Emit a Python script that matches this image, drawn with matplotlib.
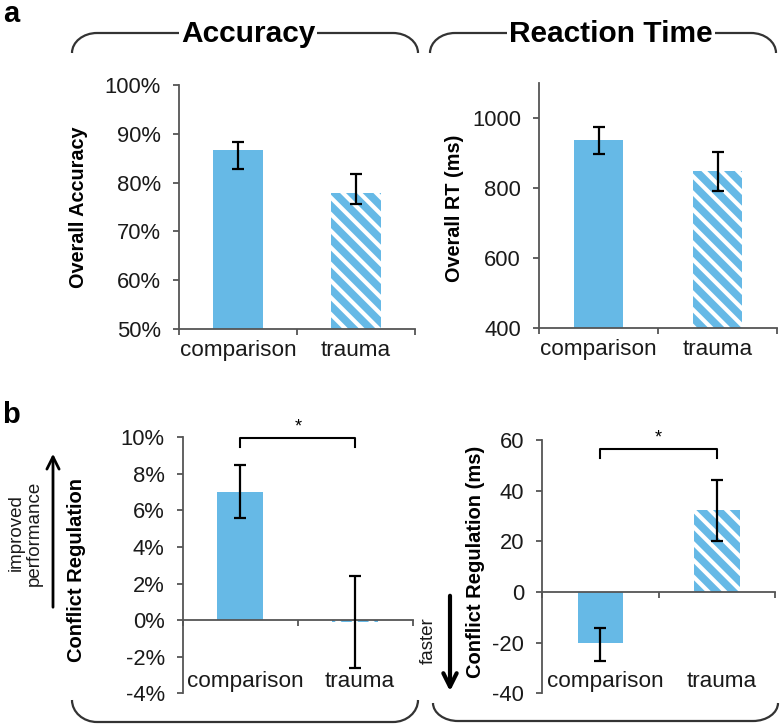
import numpy as np
import matplotlib
matplotlib.use("Agg")
import matplotlib.pyplot as plt
from matplotlib.path import Path
from matplotlib.patches import PathPatch, FancyArrowPatch
from matplotlib.ticker import FuncFormatter

# ---------------- data ----------------
groups = ["comparison", "trauma"]

acc = [86.6, 77.9]          # Overall accuracy (%)
acc_lo = [3.9, 2.2]
acc_hi = [1.8, 3.8]

rt = [938, 849]             # Overall RT (ms)
rt_lo = [40, 56]
rt_hi = [36, 54]

cr_acc = [7.0, -0.1]        # Conflict regulation accuracy (%)
cr_acc_lo = [1.4, 2.5]
cr_acc_hi = [1.5, 2.5]

cr_rt = [-20.0, 32.3]       # Conflict regulation RT (ms)
cr_rt_lo = [7.3, 12.0]
cr_rt_hi = [5.8, 12.0]

acc_ticks = [50, 60, 70, 80, 90, 100]
rt_ticks = [400, 600, 800, 1000]
cr_acc_ticks = [-4, -2, 0, 2, 4, 6, 8, 10]
cr_rt_ticks = [-40, -20, 0, 20, 40, 60]

# ---------------- style ----------------
plt.rcParams['font.family'] = ['Liberation Sans', 'DejaVu Sans']
plt.rcParams['axes.unicode_minus'] = False
plt.rcParams['hatch.linewidth'] = 3.0

W, H = 783, 727
BLUE = '#66b9e6'
AX = '#555555'
TXT = '#1a1a1a'
TICK_FS = 15.8
CAT_FS = 16.2

fig = plt.figure(figsize=(W / 100, H / 100), dpi=100)


def rect(x0, x1, ytop, ybot):
    return [x0 / W, 1 - ybot / H, (x1 - x0) / W, (ybot - ytop) / H]


def style_axes(ax, ylim, yticks, fmt, zero_spine=False, cat_labels=True):
    n = len(groups)
    ax.set_xlim(0, n)
    ax.set_ylim(*ylim)
    for s in ['top', 'right']:
        ax.spines[s].set_visible(False)
    for s in ['left', 'bottom']:
        ax.spines[s].set_color(AX)
        ax.spines[s].set_linewidth(1.3)
    if zero_spine:
        ax.spines['bottom'].set_position(('data', 0))
    ax.set_yticks(yticks)
    ax.yaxis.set_major_formatter(FuncFormatter(fmt))
    ax.set_xticks(np.arange(n + 1))
    ax.set_xticklabels([])
    ax.tick_params(axis='both', which='major', direction='out', length=4,
                   width=1.3, color=AX, labelsize=TICK_FS, labelcolor=TXT)
    ax.tick_params(axis='y', pad=9)
    centers = np.arange(n) + 0.5
    if cat_labels:
        ax.set_xticks(centers, minor=True)
        ax.set_xticklabels(groups, minor=True)
        ax.tick_params(axis='x', which='minor', length=0, labelsize=CAT_FS,
                       pad=8, labelcolor=TXT)
    else:
        for c, g in zip(centers, groups):
            ax.text(c + 0.04, 0.025, g, transform=ax.get_xaxis_transform(),
                    ha='center', va='baseline', fontsize=CAT_FS, color=TXT)
    return centers


def bars(ax, centers, vals, lo, hi, width):
    b = ax.bar(centers, vals, width=width, color=BLUE, edgecolor='white',
               linewidth=0, zorder=2)
    b[1].set_hatch('\\\\')
    ax.errorbar(centers, vals, yerr=[lo, hi], fmt='none', ecolor='black',
                elinewidth=1.6, capsize=4.3, capthick=1.6, zorder=3)


pct = lambda v, p: '%d%%' % round(v)
num = lambda v, p: '%d' % round(v)

# ---- panel a: accuracy ----
ax1 = fig.add_axes(rect(179, 415, 85, 329))
c = style_axes(ax1, (50, 100), acc_ticks, pct)
bars(ax1, c, acc, acc_lo, acc_hi, 0.42)

# ---- panel a: RT ----
ax2 = fig.add_axes(rect(539, 777, 83, 328.3))
c = style_axes(ax2, (400, 1100), rt_ticks, num)
bars(ax2, c, rt, rt_lo, rt_hi, 0.41)

# ---- panel b: accuracy conflict regulation ----
ax3 = fig.add_axes(rect(182.7, 413, 437.3, 693.3))
c = style_axes(ax3, (-4, 10), cr_acc_ticks, pct, zero_spine=True, cat_labels=False)
bars(ax3, c, cr_acc, cr_acc_lo, cr_acc_hi, 0.4)
sig_y3, sig_leg3 = 9.95, 0.5
ax3.plot([c[0], c[0], c[1], c[1]], [sig_y3 - sig_leg3, sig_y3, sig_y3, sig_y3 - sig_leg3],
         color='black', lw=1.5, clip_on=False, zorder=4)
ax3.text(c.mean(), sig_y3 + 0.35, '*', ha='center', va='baseline', fontsize=13,
         color='black')

# ---- panel b: RT conflict regulation ----
ax4 = fig.add_axes(rect(542.3, 775, 440, 693.3))
c = style_axes(ax4, (-40, 60), cr_rt_ticks, num, zero_spine=True, cat_labels=False)
bars(ax4, c, cr_rt, cr_rt_lo, cr_rt_hi, 0.39)
sig_y4, sig_leg4 = 56.3, 3.6
ax4.plot([c[0], c[0], c[1], c[1]], [sig_y4 - sig_leg4, sig_y4, sig_y4, sig_y4 - sig_leg4],
         color='black', lw=1.5, clip_on=False, zorder=4)
ax4.text(c.mean(), sig_y4 + 2.6, '*', ha='center', va='baseline', fontsize=13,
         color='black')

# ---------------- labels ----------------
def ftext(x, y, s, **kw):
    return fig.text(x / W, 1 - y / H, s, **kw)

ftext(79, 207, 'Overall Accuracy', rotation=90, ha='center', va='center',
      fontsize=14.3, fontweight='bold', color='black')
ftext(455, 208, 'Overall RT (ms)', rotation=90, ha='center', va='center',
      fontsize=14.3, fontweight='bold', color='black')
ftext(77, 570, 'Conflict Regulation', rotation=90, ha='center', va='center',
      fontsize=14.5, fontweight='bold', color='black')
ftext(475, 562, 'Conflict Regulation (ms)', rotation=90, ha='center', va='center',
      fontsize=14.5, fontweight='bold', color='black')
ftext(25, 533, 'improved\nperformance', rotation=90, ha='center', va='center',
      fontsize=13.5, color=TXT, linespacing=1.05, multialignment='center')
ftext(428, 641, 'faster', rotation=90, ha='center', va='center',
      fontsize=13.5, color=TXT)

ftext(3, 22, 'a', fontsize=21, fontweight='bold', va='baseline', ha='left')
ftext(2, 423, 'b', fontsize=21, fontweight='bold', va='baseline', ha='left')

# arrows
fig.add_artist(FancyArrowPatch(
    (53 / W, 1 - 610 / H), (53 / W, 1 - 451 / H), transform=fig.transFigure,
    arrowstyle='->', mutation_scale=22, lw=2.0, color='black'))
fig.add_artist(FancyArrowPatch(
    (450 / W, 1 - 593 / H), (450 / W, 1 - 694 / H), transform=fig.transFigure,
    arrowstyle='->', mutation_scale=24, lw=3.0, color='black'))


# braces
def brace(x0, x1, y_line, y_end, rx=25):
    k = 0.552
    pts = [(x0, y_end),
           (x0, y_end + (y_line - y_end) * k), (x0 + rx - rx * k, y_line), (x0 + rx, y_line),
           (x1 - rx, y_line),
           (x1 - rx + rx * k, y_line), (x1, y_end + (y_line - y_end) * k), (x1, y_end)]
    codes = [Path.MOVETO, Path.CURVE4, Path.CURVE4, Path.CURVE4, Path.LINETO,
             Path.CURVE4, Path.CURVE4, Path.CURVE4]
    pts = [(x / W, 1 - y / H) for x, y in pts]
    fig.add_artist(PathPatch(Path(pts, codes), transform=fig.transFigure,
                             facecolor='none', edgecolor='#333333', lw=1.6, zorder=1))

brace(72, 418, 33, 53)
brace(430, 776, 33, 53)
brace(72, 418, 722, 700)
brace(433, 778, 721, 703)

for x, s in [(248, 'Accuracy'), (611, 'Reaction Time')]:
    t = ftext(x, 42, s, ha='center', va='baseline', fontsize=21.5, fontweight='bold',
              color='black', zorder=5)
    t.set_bbox(dict(facecolor='white', edgecolor='none', pad=1.5))

fig.savefig('out.png', dpi=100)
